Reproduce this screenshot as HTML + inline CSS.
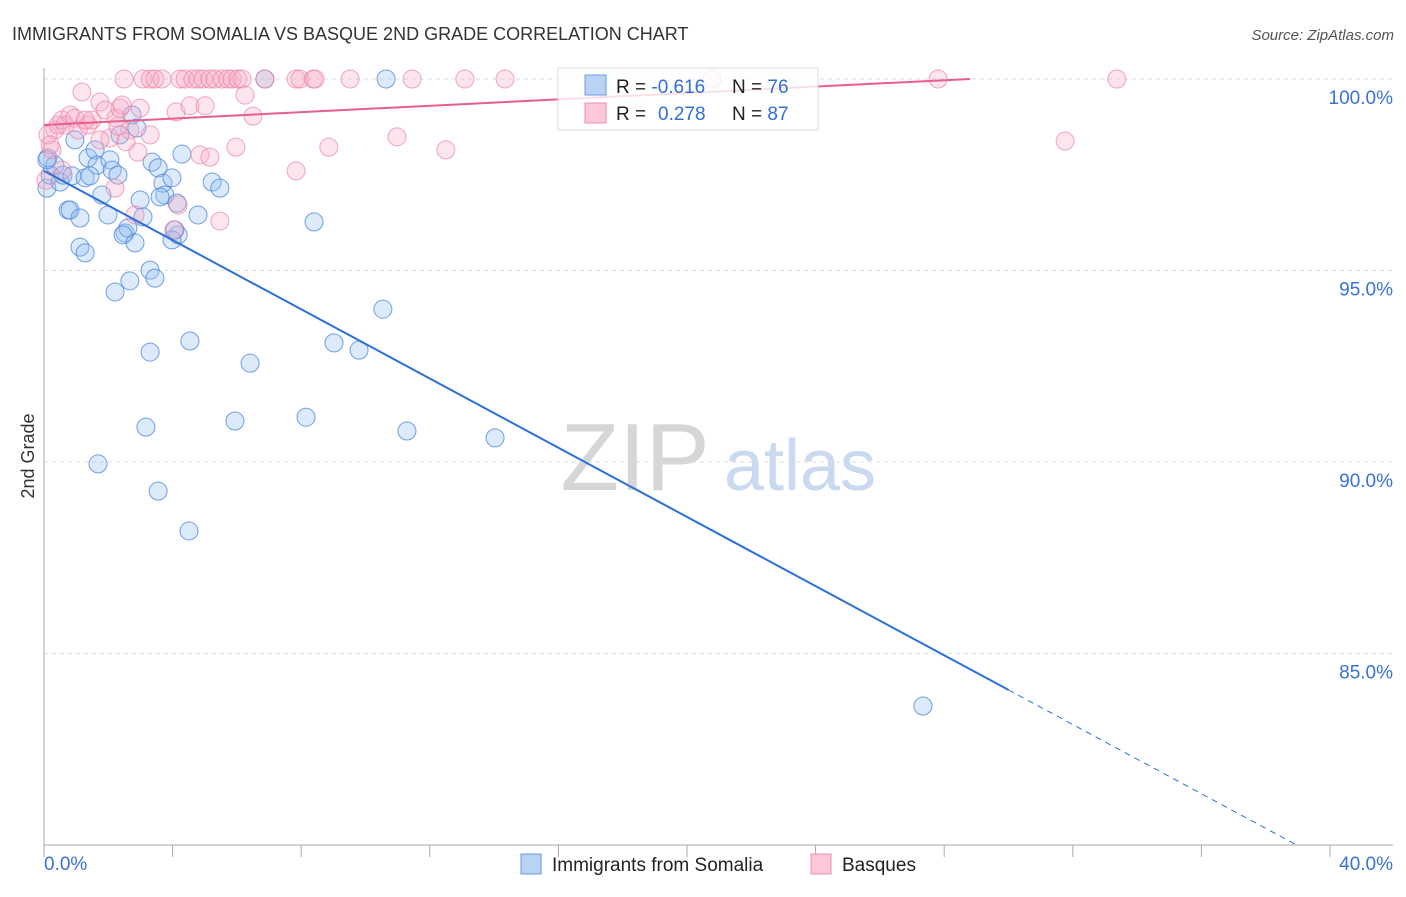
<!DOCTYPE html>
<html><head><meta charset="utf-8"><style>
body{margin:0;background:#fff;font-family:"Liberation Sans",sans-serif}
svg text{font-family:"Liberation Sans",sans-serif}
</style></head><body>
<svg id="chart" width="1406" height="892" viewBox="0 0 1406 892">
<text x="12" y="40" font-size="18" fill="#333">IMMIGRANTS FROM SOMALIA VS BASQUE 2ND GRADE CORRELATION CHART</text>
<text x="1394" y="40" font-size="15" fill="#555" font-style="italic" text-anchor="end">Source: ZipAtlas.com</text>
<text x="34" y="456" font-size="18" fill="#333" text-anchor="middle" transform="rotate(-90 34 456)">2nd Grade</text>
<g><text x="635" y="490" font-size="96" fill="#d6d6d6" font-family="Liberation Serif" text-anchor="middle">ZIP</text><text x="800" y="490" font-size="72" fill="#c9d9ef" text-anchor="middle">atlas</text></g>
<g id="grid"></g><g id="axes"></g><g id="pts"></g><g id="lines"></g>
<g>
<rect x="558" y="68" width="260" height="62" fill="rgba(255,255,255,0.8)" stroke="#ddd"/>
<rect x="585" y="75" width="21" height="20" fill="#b9d3f5" stroke="#6a9be0"/>
<rect x="585" y="103" width="21" height="20" fill="#fcc7d6" stroke="#ee90ae"/>
<text x="616" y="93" font-size="19" fill="#222">R = <tspan fill="#2f6fd6">-0.616</tspan><tspan x="732">N = </tspan><tspan fill="#2f6fd6">76</tspan></text>
<text x="616" y="120" font-size="19" fill="#222">R = <tspan fill="#2f6fd6" x="658">0.278</tspan><tspan x="732">N = </tspan><tspan fill="#2f6fd6">87</tspan></text>
</g>
<g>
<rect x="521" y="854" width="20" height="20" fill="#b9d3f5" stroke="#6a9be0"/>
<text x="552" y="871" font-size="19" fill="#222">Immigrants from Somalia</text>
<rect x="811" y="854" width="20" height="20" fill="#fcc7d6" stroke="#ee90ae"/>
<text x="842" y="871" font-size="19" fill="#222">Basques</text>
</g>
</svg>
<script>
const blueX=[6.87,10.64,0.12,0.34,0.09,0.19,0.5,0.59,0.87,0.96,1.37,1.59,1.65,1.28,1.43,1.80,2.05,2.12,2.30,2.36,1.99,0.75,0.81,1.12,1.12,1.28,2.21,2.67,2.52,2.61,2.46,2.83,2.74,2.89,2.99,3.08,3.36,3.55,3.70,3.76,3.61,3.98,4.14,4.17,3.98,4.07,4.29,4.79,5.23,5.47,3.30,3.45,3.30,4.54,3.17,3.55,4.51,1.68,5.94,6.41,8.15,9.02,9.80,10.54,11.29,8.40,14.03,27.34,0.09];
const blueY=[100,100,97.94,97.75,97.15,97.49,97.31,97.49,97.47,98.41,97.94,98.15,97.75,97.42,97.47,96.97,97.89,97.62,97.49,98.54,96.45,96.58,96.58,96.37,95.61,95.46,94.44,94.73,95.98,96.11,95.93,95.72,99.06,98.72,96.84,96.40,97.83,97.68,97.28,96.97,96.92,97.42,96.76,95.93,95.80,96.06,98.04,96.45,97.31,97.15,95.01,94.80,92.87,93.16,90.91,89.24,88.20,89.95,91.07,92.58,91.17,93.11,92.92,93.99,90.81,96.27,90.63,83.63,97.89];
const pinkX=[2.49,3.08,3.30,3.45,3.67,4.23,4.39,4.63,4.79,4.95,5.16,5.32,5.54,5.72,5.85,6.03,6.16,6.87,7.84,7.96,8.37,8.43,9.52,11.45,13.09,14.34,20.78,27.81,33.37,1.18,0.12,0.25,0.34,0.44,0.56,0.65,0.81,0.96,1.06,1.37,1.49,1.74,1.90,2.05,2.24,2.36,2.43,2.67,2.92,3.30,2.21,2.83,4.11,4.54,5.01,4.85,5.16,5.47,5.97,6.25,6.50,7.84,8.86,10.98,12.50,31.76,4.04,4.17,0.06,0.19,1.28,1.74,2.30,0.56,2.99,2.55];
const pinkY=[100,100,100,100,100,100,100,100,100,100,100,100,100,100,100,100,100,100,100,100,100,100,100,100,100,100,100,100,100,99.66,98.54,98.15,98.67,98.80,98.93,98.80,99.06,98.98,98.67,98.80,98.93,99.40,99.19,98.46,98.98,99.24,99.32,98.67,98.09,98.54,97.15,96.45,99.14,99.30,99.30,98.02,97.96,96.29,98.22,99.58,99.03,97.60,98.22,98.49,98.15,98.38,96.06,96.71,97.36,98.28,98.93,98.41,98.77,97.62,99.24,98.36];
const yTicks=[100,95,90,85];
const yTickLabels=["100.0%","95.0%","90.0%","85.0%"];
const xTicks=[0,4,8,12,16,20,24,28,32,36,40];
const blueTrend=[97.6,-0.4517];
const pinkTrend=[98.8,0.0417];
const NS="http://www.w3.org/2000/svg";
const sx=v=>44+v*32.15, sy=v=>79+(100-v)*38.3;
function mk(tag,at,parent){const e=document.createElementNS(NS,tag);for(const k in at)e.setAttribute(k,at[k]);document.getElementById(parent).appendChild(e);return e;}
yTicks.forEach((t,i)=>{
 const g=mk('line',{x1:44,x2:1393,y1:sy(t),y2:sy(t),stroke:'#ddd','stroke-dasharray':'4,4'},'grid');
 
 
 const l=mk('text',{x:1393,y:sy(t)+25,'font-size':19,fill:'#3a72d8','text-anchor':'end'},'grid');
 l.textContent=yTickLabels[i];
 
 
});
const ax=mk('line',{x1:44,x2:44,y1:68,y2:845,stroke:'#aaa'},'axes');


const bx=mk('line',{x1:44,x2:1393,y1:845,y2:845,stroke:'#aaa'},'axes');


xTicks.forEach(t=>{const e=mk('line',{x1:sx(t),x2:sx(t),y1:845,y2:857,stroke:'#aaa'},'axes');
 
 });
const x0=mk('text',{x:44,y:870,'font-size':19,fill:'#3a72d8'},'axes');x0.textContent='0.0%';


const x1=mk('text',{x:1393,y:870,'font-size':19,fill:'#3a72d8','text-anchor':'end'},'axes');x1.textContent='40.0%';


blueX.forEach((v,i)=>{const c=mk('circle',{cx:sx(v),cy:sy(blueY[i]),r:9,fill:'rgba(150,190,240,0.33)',stroke:'rgba(70,130,220,0.75)','stroke-width':1},'pts');
 
 });
pinkX.forEach((v,i)=>{const c=mk('circle',{cx:sx(v),cy:sy(pinkY[i]),r:9,fill:'rgba(250,170,195,0.3)',stroke:'rgba(235,130,165,0.7)','stroke-width':1},'pts');
 
 });
const bf=x=>blueTrend[0]+blueTrend[1]*x, pf=x=>pinkTrend[0]+pinkTrend[1]*x;
const b1=mk('line',{x1:sx(0),y1:sy(bf(0)),x2:sx(30),y2:sy(bf(30)),stroke:'#2a70d8','stroke-width':2},'lines');


const b2=mk('line',{x1:sx(30),y1:sy(bf(30)),x2:sx(38.9),y2:sy(bf(38.9)),stroke:'#2a70d8','stroke-width':1,'stroke-dasharray':'6,5'},'lines');


const p1=mk('line',{x1:sx(0),y1:sy(pf(0)),x2:sx(28.8),y2:sy(pf(28.8)),stroke:'#e8608a','stroke-width':2},'lines');


</script>
</body></html>
